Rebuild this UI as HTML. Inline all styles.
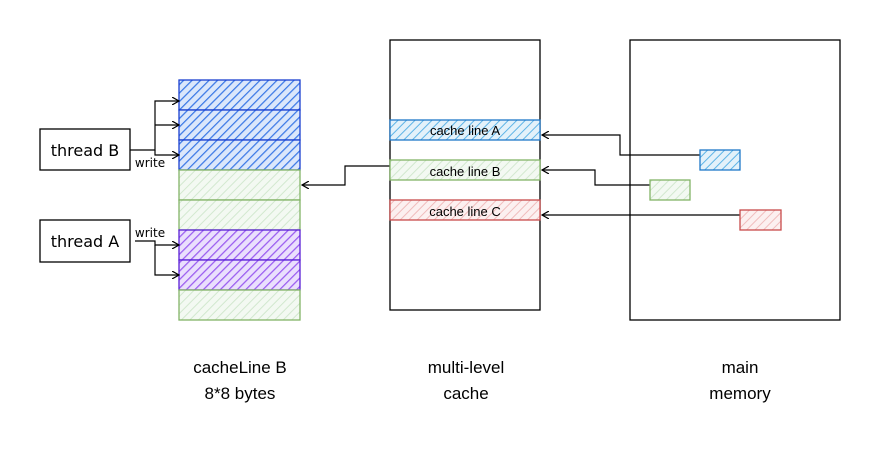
<!DOCTYPE html>
<html><head><style>body{margin:0;background:#fff}svg{display:block}</style></head><body>
<svg width="881" height="451" xmlns="http://www.w3.org/2000/svg">
<defs>
<pattern id="hb" width="6" height="6" patternUnits="userSpaceOnUse" patternTransform="rotate(45)"><rect width="6" height="6" fill="#dbe7fb"/><line x1="0" y1="0" x2="0" y2="6" stroke="#3a78e6" stroke-width="2.5"/></pattern>
<pattern id="hc" width="6" height="6" patternUnits="userSpaceOnUse" patternTransform="rotate(45)"><rect width="6" height="6" fill="#e3f1fa"/><line x1="0" y1="0" x2="0" y2="6" stroke="#5fb4e6" stroke-width="2"/></pattern>
<pattern id="hg" width="6" height="6" patternUnits="userSpaceOnUse" patternTransform="rotate(45)"><rect width="6" height="6" fill="#f3f9f2"/><line x1="0" y1="0" x2="0" y2="6" stroke="#d2e8cf" stroke-width="2"/></pattern>
<pattern id="hp" width="6" height="6" patternUnits="userSpaceOnUse" patternTransform="rotate(45)"><rect width="6" height="6" fill="#eadffd"/><line x1="0" y1="0" x2="0" y2="6" stroke="#9a5cf0" stroke-width="2.5"/></pattern>
<pattern id="hr" width="6" height="6" patternUnits="userSpaceOnUse" patternTransform="rotate(45)"><rect width="6" height="6" fill="#fcf0f0"/><line x1="0" y1="0" x2="0" y2="6" stroke="#f0bcbc" stroke-width="2"/></pattern>
<marker id="ar" markerWidth="8" markerHeight="8" refX="7" refY="4" orient="auto" markerUnits="userSpaceOnUse"><path d="M0,0 L7,4 L0,8" fill="none" stroke="#000" stroke-width="1.2"/></marker>
</defs>
<g stroke-width="1.3">
<rect x="179" y="80" width="121" height="30" fill="url(#hb)" stroke="#1a3fd0"/>
<rect x="179" y="110" width="121" height="30" fill="url(#hb)" stroke="#1a3fd0"/>
<rect x="179" y="140" width="121" height="30" fill="url(#hb)" stroke="#1a3fd0"/>
<rect x="179" y="170" width="121" height="30" fill="url(#hg)" stroke="#82b366"/>
<rect x="179" y="200" width="121" height="30" fill="url(#hg)" stroke="#82b366"/>
<rect x="179" y="230" width="121" height="30" fill="url(#hp)" stroke="#5a1fd6"/>
<rect x="179" y="260" width="121" height="30" fill="url(#hp)" stroke="#5a1fd6"/>
<rect x="179" y="290" width="121" height="30" fill="url(#hg)" stroke="#82b366"/>
</g>
<g fill="#fff" stroke="#000" stroke-width="1.3">
<rect x="40" y="129" width="90" height="41"/>
<rect x="40" y="220" width="90" height="42"/>
<rect x="390" y="40" width="150" height="270"/>
<rect x="630" y="40" width="210" height="280"/>
</g>
<g font-family="DejaVu Sans, sans-serif" font-size="16" text-anchor="middle">
<text x="85" y="156">thread B</text>
<text x="85" y="247">thread A</text>
<text x="150" y="167" font-size="12">write</text>
<text x="150" y="237" font-size="12">write</text>
</g>
<g fill="none" stroke="#000" stroke-width="1.2">
<path d="M130,150 H155 V101 H179" marker-end="url(#ar)"/>
<path d="M155,125 H179" marker-end="url(#ar)"/>
<path d="M155,150 V155 H179" marker-end="url(#ar)"/>
<path d="M135,241 H155 V245 H179" marker-end="url(#ar)"/>
<path d="M155,245 V275 H179" marker-end="url(#ar)"/>
<path d="M390,166 H345 V185 H302" marker-end="url(#ar)"/>
<path d="M700,155 H620 V135 H542" marker-end="url(#ar)"/>
<path d="M650,185 H595 V170 H542" marker-end="url(#ar)"/>
<path d="M740,215 H542" marker-end="url(#ar)"/>
</g>
<g stroke-width="1.3">
<rect x="390" y="120" width="150" height="20" fill="url(#hc)" stroke="#1f78c8"/>
<rect x="390" y="160" width="150" height="20" fill="url(#hg)" stroke="#82b366"/>
<rect x="390" y="200" width="150" height="20" fill="url(#hr)" stroke="#c84b4b"/>
<rect x="700" y="150" width="40" height="20" fill="url(#hc)" stroke="#1f78c8"/>
<rect x="650" y="180" width="40" height="20" fill="url(#hg)" stroke="#82b366"/>
<rect x="740" y="210" width="41" height="20" fill="url(#hr)" stroke="#c84b4b"/>
</g>
<g font-family="Liberation Sans, Arial, sans-serif" font-size="13" text-anchor="middle" fill="#000">
<text x="465" y="135">cache line A</text>
<text x="465" y="176">cache line B</text>
<text x="465" y="216">cache line C</text>
</g>
<g font-family="Liberation Sans, Arial, sans-serif" font-size="17" text-anchor="middle" fill="#000">
<text x="240" y="373">cacheLine B</text>
<text x="240" y="399">8*8 bytes</text>
<text x="466" y="373">multi-level</text>
<text x="466" y="399">cache</text>
<text x="740" y="373">main</text>
<text x="740" y="399">memory</text>
</g>
</svg>
</body></html>
